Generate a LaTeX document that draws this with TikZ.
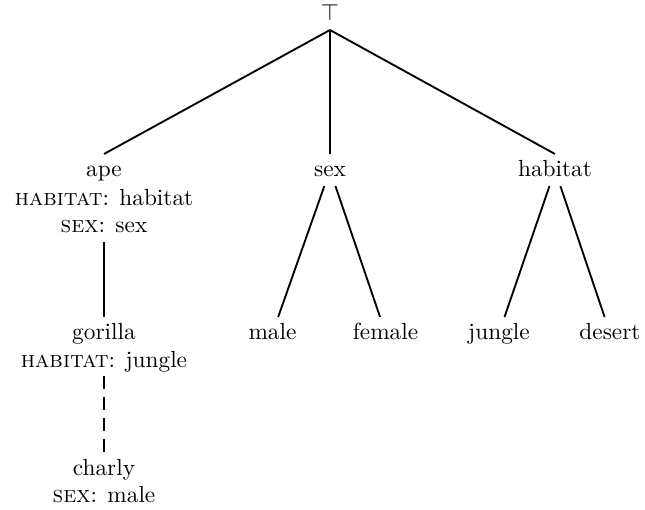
\documentclass[tikz,border=0pt]{standalone}
\begin{document}
\begin{tikzpicture}[x=0.42915pt,y=-0.42915pt,
  tn/.style={inner sep=3.33pt,text height=6.2pt,text depth=0.5pt},
  ln/.style={inner sep=3.33pt,text depth=0.5pt},
  edge/.style={line width=0.8pt},
  dashedge/.style={line width=0.8pt,dash pattern=on 5.6pt off 3.4pt}]
\useasboundingbox (0,0) rectangle (645,510);
% nodes
\node[tn,anchor=south] (top) at (330,30) {$\top$};
\node[tn,anchor=north] (ape) at (104,154) {ape};
\node[ln,anchor=base] (ape2) at (104,205) {\textsc{habitat}: habitat};
\node[ln,anchor=base] (ape3) at (104,233) {\textsc{sex}: sex};
\node[tn,anchor=north] (sex) at (330,154) {sex};
\node[tn,anchor=north] (habitat) at (555,154) {habitat};
\node[tn,anchor=north] (gorilla) at (104,317) {gorilla};
\node[ln,anchor=base] (gorilla2) at (104,367) {\textsc{habitat}: jungle};
\node[tn,anchor=north] (charly) at (104,453) {charly};
\node[ln,anchor=base] (charly2) at (104,502) {\textsc{sex}: male};
\node[tn,anchor=north] (male) at (272.5,317) {male};
\node[tn,anchor=north] (female) at (385.5,317) {female};
\node[tn,anchor=north] (jungle) at (499,317) {jungle};
\node[tn,anchor=north] (desert) at (610,317) {desert};
% edges
\draw[edge] (top.south) -- (ape.north);
\draw[edge] (top.south) -- (sex.north);
\draw[edge] (top.south) -- (habitat.north);
\draw[edge] (sex) -- (male);
\draw[edge] (sex) -- (female);
\draw[edge] (habitat) -- (jungle);
\draw[edge] (habitat) -- (desert);
\draw[edge] (ape3.south) -- (gorilla.north);
\draw[dashedge] (gorilla2.south) -- (charly.north);
\end{tikzpicture}
\end{document}
